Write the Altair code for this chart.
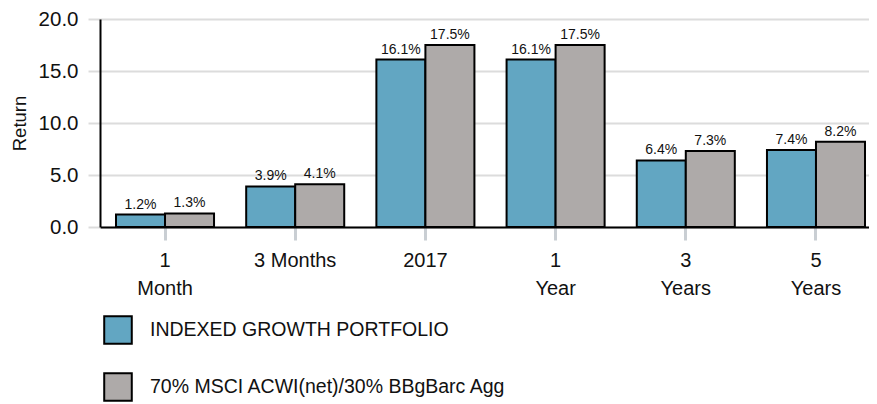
import altair as alt
import pandas as pd

categories = ["1|Month", "3 Months", "2017", "1|Year", "3|Years", "5|Years"]
series_names = ["INDEXED GROWTH PORTFOLIO", "70% MSCI ACWI(net)/30% BBgBarc Agg"]
portfolio = [1.2, 3.9, 16.1, 16.1, 6.4, 7.4]
benchmark = [1.3, 4.1, 17.5, 17.5, 7.3, 8.2]
y_ticks = [0, 5, 10, 15, 20]

rows = []
for c, a, b in zip(categories, portfolio, benchmark):
    rows.append({"period": c, "series": series_names[0], "value": a})
    rows.append({"period": c, "series": series_names[1], "value": b})
df = pd.DataFrame(rows)

FONT = "Liberation Sans"

x = alt.X(
    "period:N",
    sort=categories,
    scale=alt.Scale(paddingInner=0.247, paddingOuter=0.0768, align=0.8),
    axis=alt.Axis(
        title=None,
        labelExpr="split(datum.label, '|')",
        labelAngle=0,
        labelFontSize=20,
        labelFont=FONT,
        labelColor="#111",
        labelLineHeight=28,
        labelPadding=10,
        tickColor="#c9ced3",
        tickWidth=3,
        tickSize=13,
        domainColor="#000",
        domainWidth=2,
        grid=False,
    ),
)
xo = alt.XOffset("series:N", sort=series_names, scale=alt.Scale(paddingInner=0, paddingOuter=0))
y = alt.Y(
    "value:Q",
    scale=alt.Scale(domain=[0, 20], nice=False),
    axis=alt.Axis(
        title="Return",
        values=y_ticks,
        format=".1f",
        labelFontSize=20.5,
        labelFont=FONT,
        labelColor="#111",
        labelPadding=10,
        tickColor="#dcdcdc",
        tickWidth=2,
        tickSize=12,
        gridColor="#dcdcdc",
        gridWidth=2,
        domainColor="#000",
        domainWidth=2,
        titleFont=FONT,
        titleFontSize=18.5,
        titleFontWeight="normal",
        titleColor="#111",
        titlePadding=9,
    ),
)
color = alt.Color(
    "series:N",
    sort=series_names,
    scale=alt.Scale(domain=series_names, range=["#62a6c2", "#aeaaa9"]),
    legend=alt.Legend(
        title=None,
        orient="none",
        legendX=3,
        legendY=296,
        direction="vertical",
        symbolType="square",
        symbolSize=760,
        symbolStrokeColor="#000",
        symbolStrokeWidth=2,
        labelFont=FONT,
        labelFontSize=19.5,
        labelColor="#111",
        labelOffset=17,
        labelLimit=700,
        rowPadding=21,
        padding=0,
    ),
)

bars = alt.Chart(df).mark_bar(stroke="#000", strokeWidth=2).encode(
    x=x, xOffset=xo, y=y, color=color
)
labels = (
    alt.Chart(df)
    .transform_calculate(lbl="format(datum.value, '.1f') + '%'")
    .mark_text(baseline="bottom", dy=-3, font=FONT, fontSize=14, color="#111")
    .encode(x=x, xOffset=xo, y=y, text="lbl:N")
)

chart = (
    alt.layer(bars, labels)
    .properties(
        width=769,
        height=208,
        autosize=alt.AutoSizeParams(type="none"),
        padding={"left": 92, "top": 11, "right": 0, "bottom": 177},
    )
    .configure_view(stroke=None)
    .configure(background="white")
)

chart.save("out.html", embed_options={"renderer": "svg", "actions": False})
